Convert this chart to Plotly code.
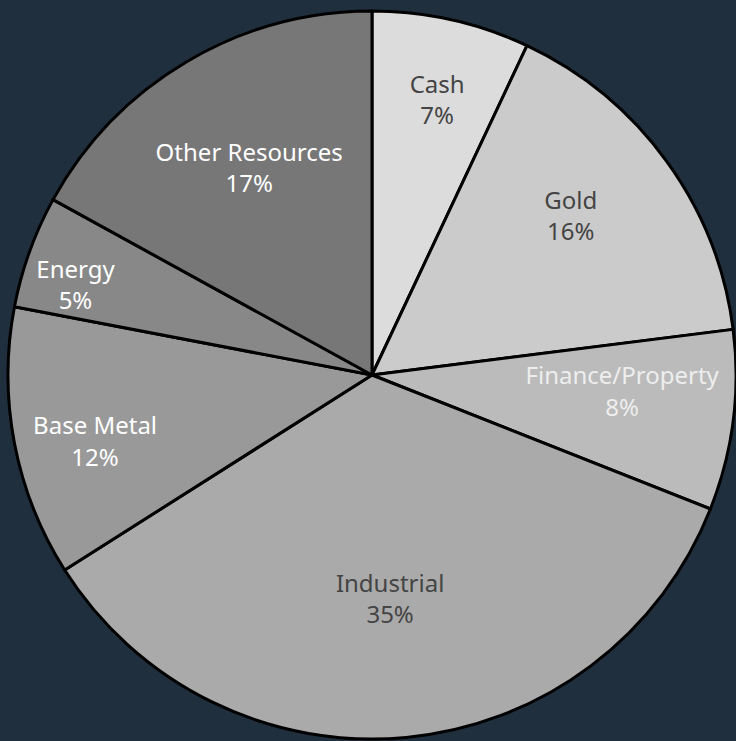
import plotly.graph_objects as go

labels = ["Cash", "Gold", "Finance/Property", "Industrial", "Base Metal", "Energy", "Other Resources"]
values = [7, 16, 8, 35, 12, 5, 17]
colors = ["#dcdcdc", "#cbcbcb", "#bbbbbb", "#aaaaaa", "#999999", "#888888", "#777777"]
text_colors = ["#444444", "#444444", "#eeeeee", "#444444", "#ffffff", "#ffffff", "#ffffff"]

W, H = 736, 741
cx, cy, r = 372, 375, 364  # pie centre / radius in pixels

NB = "\u00a0"
LBL = "%{label}"
PCT = "%{percent:.0%}"
# invisible padding nudges the inside labels to where the reference shows them
templates = [
    NB + "<br>" + LBL + "<br>" + PCT,                                  # Cash: lower
    LBL + "<br>" + PCT + "<br>" + NB,                                  # Gold: higher
    NB + "<br>" + LBL + NB * 12 + "<br>" + PCT + NB * 12,              # Finance: left & lower
    NB + "<br>" + NB + "<br>" + LBL + "<br>" + PCT,                    # Industrial: lower
    NB + "<br>" + LBL + NB * 5 + "<br>" + PCT + NB * 5,                # Base Metal
    NB + "<br>" + LBL + "<br>" + PCT,                                  # Energy: lower
    LBL + "<br>" + PCT,                                                # Other Resources
]

fig = go.Figure(go.Pie(
    labels=labels,
    values=values,
    sort=False,
    direction="clockwise",
    rotation=0,
    marker=dict(colors=colors, line=dict(color="#000000", width=3)),
    texttemplate=templates,
    textposition="inside",
    insidetextorientation="horizontal",
    textfont=dict(family="Noto Sans", size=24, color=text_colors),
    hoverinfo="label+percent",
    showlegend=False,
    domain=dict(x=[(cx - r) / W, min(1, (cx + r) / W)],
                y=[(H - cy - r) / H, (H - cy + r) / H]),
))

fig.update_layout(
    width=W,
    height=H,
    margin=dict(l=0, r=0, t=0, b=0),
    paper_bgcolor="#1f2f3d",
    plot_bgcolor="#1f2f3d",
    uniformtext=dict(minsize=24, mode="show"),
)

fig.write_html(
    "out.html",
    config={"displayModeBar": False},
    post_script="document.body.style.margin='0';document.body.style.background='#1f2f3d';",
)
